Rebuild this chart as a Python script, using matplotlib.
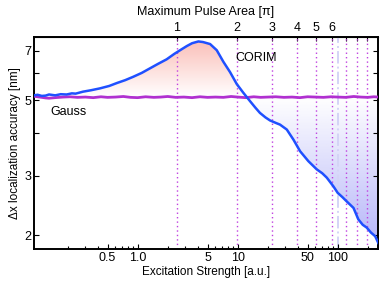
import numpy as np
import matplotlib
matplotlib.use("Agg")
import matplotlib.pyplot as plt
from matplotlib.ticker import FixedLocator, NullFormatter, NullLocator

# =========================================================
# DATA
# =========================================================

# CORIM: excitation strength [a.u.] and localization accuracy [nm]
corim_x = [0.092, 0.10, 0.11, 0.12, 0.13, 0.15, 0.17, 0.195, 0.22, 0.24, 0.284,
           0.34, 0.42, 0.52, 0.62, 0.75, 0.90, 1.10, 1.33, 1.60, 1.95, 2.33,
           2.70, 3.10, 3.50, 4.05, 4.50, 5.30, 6.18, 7.20, 8.40, 9.80, 11.4,
           13.3, 15.0, 16.7, 19.0, 21.1, 24.0, 26.5, 31.0, 36.1, 42.1, 50.9,
           61.8, 70.0, 77.8, 90.6, 100, 112, 123, 144, 161, 178, 195, 215,
           237, 255]
corim_y = [5.17, 5.19, 5.15, 5.16, 5.20, 5.17, 5.21, 5.20, 5.24, 5.23, 5.30,
           5.35, 5.42, 5.51, 5.62, 5.73, 5.86, 6.02, 6.21, 6.40, 6.60, 6.85,
           7.04, 7.22, 7.36, 7.45, 7.42, 7.32, 7.02, 6.49, 6.05, 5.58, 5.26,
           4.97, 4.76, 4.59, 4.45, 4.36, 4.29, 4.24, 4.10, 3.83, 3.54, 3.31,
           3.13, 3.05, 2.96, 2.79, 2.67, 2.59, 2.52, 2.41, 2.23, 2.15, 2.11,
           2.04, 1.99, 1.90]

# Gauss reference
gauss_x = [0.092, 0.10, 0.11, 0.12, 0.13, 0.15, 0.18, 0.21, 0.25, 0.30, 0.36,
           0.43, 0.50, 0.60, 0.72, 0.85, 1.0, 1.2, 1.45, 1.7, 2.0, 2.4, 2.9,
           3.5, 4.2, 5.0, 6.0, 7.2, 8.6, 10, 12, 14.5, 17, 20, 24, 29, 35, 42,
           50, 60, 72, 86, 100, 120, 145, 170, 200, 230, 255]
gauss_y = [5.14, 5.12, 5.10, 5.08, 5.07, 5.09, 5.11, 5.12, 5.10, 5.11, 5.09,
           5.12, 5.10, 5.11, 5.13, 5.10, 5.09, 5.12, 5.10, 5.11, 5.13, 5.10,
           5.11, 5.09, 5.12, 5.10, 5.11, 5.10, 5.13, 5.11, 5.09, 5.12, 5.10,
           5.11, 5.12, 5.10, 5.11, 5.09, 5.12, 5.11, 5.10, 5.12, 5.11, 5.10,
           5.13, 5.11, 5.10, 5.12, 5.11]

# pulse area n*pi reached at strength ~ 2.45*n^2
pulse_areas = [1, 2, 3, 4, 5, 6, 7, 8, 9]
pulse_labels = ["1", "2", "3", "4", "5", "6", "", "", ""]
pulse_scale = 2.45

x_ticks = [0.5, 1.0, 5, 10, 50, 100]
x_tick_labels = ["0.5", "1.0", "5", "10", "50", "100"]
y_ticks = [2, 3, 4, 5, 6, 7]
y_tick_labels = ["2", "3", "", "5", "", "7"]

XLIM = (0.092, 253)
YLIM = (1.82, 7.69)

# =========================================================
# FIGURE
# =========================================================

plt.rcParams['font.family'] = ['Liberation Sans', 'DejaVu Sans']
plt.rcParams['font.size'] = 9

fig = plt.figure(figsize=(3.82, 2.85), dpi=100)
ax = fig.add_axes([0.089, 0.125, 0.9005, 0.746])
ax.set_xscale('log')
ax.set_yscale('log')
ax.set_xlim(*XLIM)
ax.set_ylim(*YLIM)

cx = np.array(corim_x)
cy = np.array(corim_y)
gy = np.interp(np.log(cx), np.log(gauss_x), gauss_y)

# gradient fill between the curves
f5 = (np.log10(5.1) - np.log10(YLIM[0])) / (np.log10(YLIM[1]) - np.log10(YLIM[0]))
fpk = (np.log10(7.45) - np.log10(YLIM[0])) / (np.log10(YLIM[1]) - np.log10(YLIM[0]))
rows = np.linspace(0, 1, 400)
img = np.ones((400, 2, 4))
for i, fr in enumerate(rows):
    if fr >= f5:
        a = min((fr - f5) / (fpk - f5), 1.0)
        img[i, :, :3] = [0.97, 0.50, 0.45]
        img[i, :, 3] = 0.50 * a
    else:
        a = (f5 - fr) / f5
        img[i, :, :3] = [0.40, 0.40, 0.95]
        img[i, :, 3] = 0.50 * a

poly = ax.fill_between(cx, gy, cy, facecolor='none', edgecolor='none')
im = ax.imshow(img, origin='lower', extent=[0, 1, 0, 1], transform=ax.transAxes,
               aspect='auto', interpolation='bilinear', zorder=1)
im.set_clip_path(poly.get_paths()[0], ax.transData)

# vertical markers
for n in pulse_areas:
    ax.axvline(pulse_scale * n ** 2, color='#c040e0', ls=(0, (1, 2.2)), lw=1.0, zorder=2)
ax.axvline(100, color='#d4d4f6', ls='-.', lw=1.4, zorder=1.5)

# curves
ax.plot(gauss_x, gauss_y, color='#b030d0', lw=2.0, zorder=3)
ax.plot(corim_x, corim_y, color='#1f50ff', lw=1.8, zorder=4)

ax.text(9.4, 6.68, "CORIM", fontsize=9, va='center', ha='left')
ax.text(0.133, 4.63, "Gauss", fontsize=9, va='center', ha='left')

# axes and ticks
ax.xaxis.set_major_locator(FixedLocator(x_ticks))
ax.set_xticklabels(x_tick_labels)
ax.xaxis.set_minor_formatter(NullFormatter())
ax.yaxis.set_major_locator(FixedLocator(y_ticks))
ax.set_yticklabels(y_tick_labels)
ax.yaxis.set_minor_locator(NullLocator())
ax.tick_params(which='both', direction='in', right=True, top=False, width=0.8)
ax.tick_params(which='major', length=3.5, pad=2, labelsize=9)
ax.tick_params(which='minor', length=2)

ax.set_xlabel("Excitation Strength [a.u.]", labelpad=1, fontsize=8.5)
ax.set_ylabel("\u0394x localization accuracy [nm]", labelpad=2, fontsize=8.5)

for s in ax.spines.values():
    s.set_linewidth(1.4)

top = ax.secondary_xaxis('top')
top.set_xticks([pulse_scale * n ** 2 for n in pulse_areas])
top.set_xticklabels(pulse_labels)
top.xaxis.set_minor_locator(NullLocator())
top.tick_params(direction='in', length=3, width=0.8, pad=2, labelsize=9)
top.set_xlabel("Maximum Pulse Area [\u03c0]", labelpad=5, fontsize=9)

fig.savefig("out.png", dpi=100)
